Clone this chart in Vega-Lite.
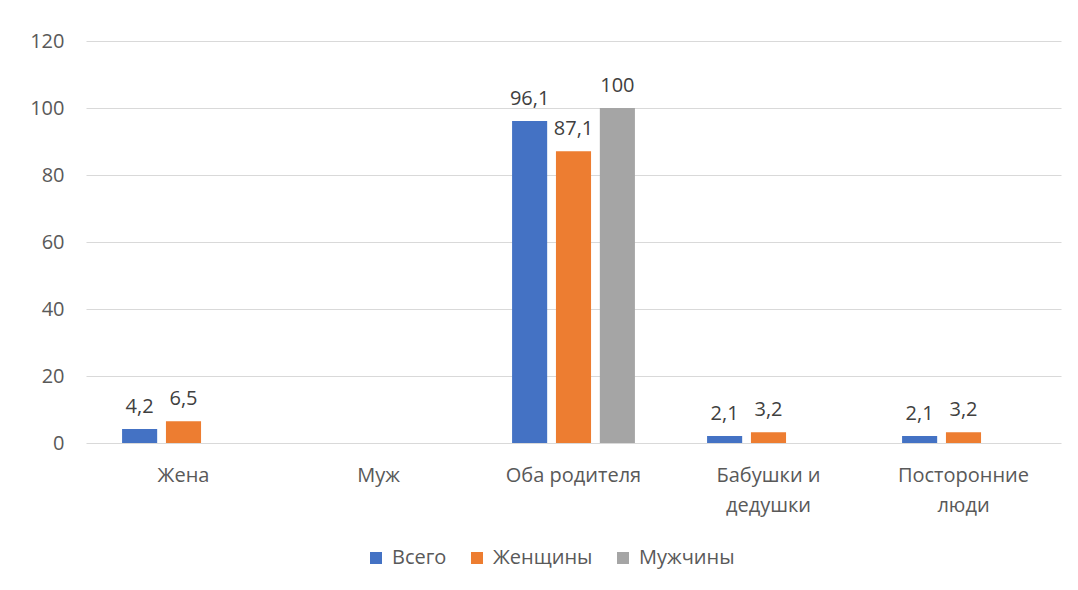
{
  "$schema": "https://vega.github.io/schema/vega-lite/v6.json",
  "width": 975,
  "height": 402,
  "padding": {"left": 29, "top": 31, "right": 18, "bottom": 10},
  "background": "white",
  "config": {
    "font": "Open Sans",
    "view": {"stroke": null},
    "axis": {"labelFont": "Open Sans", "labelFontSize": 20, "labelColor": "#595959", "domain": false, "ticks": false},
    "legend": {"labelFont": "Open Sans", "labelFontSize": 20, "labelColor": "#595959"}
  },
  "data": {
    "values": [
      {"cat": "Жена", "series": "Всего", "value": 4.2, "label": "4,2"},
      {"cat": "Жена", "series": "Женщины", "value": 6.5, "label": "6,5"},
      {"cat": "Оба родителя", "series": "Всего", "value": 96.1, "label": "96,1"},
      {"cat": "Оба родителя", "series": "Женщины", "value": 87.1, "label": "87,1"},
      {"cat": "Оба родителя", "series": "Мужчины", "value": 100, "label": "100"},
      {"cat": "Бабушки и дедушки", "series": "Всего", "value": 2.1, "label": "2,1"},
      {"cat": "Бабушки и дедушки", "series": "Женщины", "value": 3.2, "label": "3,2"},
      {"cat": "Посторонние люди", "series": "Всего", "value": 2.1, "label": "2,1"},
      {"cat": "Посторонние люди", "series": "Женщины", "value": 3.2, "label": "3,2"}
    ]
  },
  "encoding": {
    "x": {
      "field": "cat", "type": "nominal",
      "scale": {"domain": ["Жена", "Муж", "Оба родителя", "Бабушки и дедушки", "Посторонние люди"], "paddingInner": 0.37, "paddingOuter": 0.185},
      "axis": {
        "title": null, "labelAngle": 0, "labelPadding": 22, "grid": false, "labelLineHeight": 30,
        "labelExpr": "datum.value == 'Бабушки и дедушки' ? ['Бабушки и', 'дедушки'] : datum.value == 'Посторонние люди' ? ['Посторонние', 'люди'] : datum.value"
      }
    },
    "xOffset": {
      "field": "series", "type": "nominal",
      "scale": {"domain": ["Всего", "Женщины", "Мужчины"], "paddingInner": 0.2}
    },
    "y": {
      "field": "value", "type": "quantitative",
      "scale": {"domain": [0, 120], "nice": false},
      "axis": {"title": null, "values": [0, 20, 40, 60, 80, 100, 120], "labelPadding": 22, "gridColor": "#d9d9d9", "gridWidth": 1}
    }
  },
  "layer": [
    {
      "mark": {"type": "bar"},
      "encoding": {
        "color": {
          "field": "series", "type": "nominal",
          "scale": {"domain": ["Всего", "Женщины", "Мужчины"], "range": ["#4472C4", "#ED7D31", "#A5A5A5"]},
          "legend": {"title": null, "orient": "none", "legendX": 280, "legendY": 507, "direction": "horizontal", "symbolType": "square", "symbolSize": 144, "symbolStrokeWidth": 0, "labelOffset": 6, "columnPadding": 20}
        }
      }
    },
    {
      "mark": {"type": "text", "baseline": "alphabetic", "dy": -16, "fontSize": 20, "color": "#404040", "font": "Open Sans"},
      "encoding": {"text": {"field": "label", "type": "nominal"}}
    }
  ]
}
